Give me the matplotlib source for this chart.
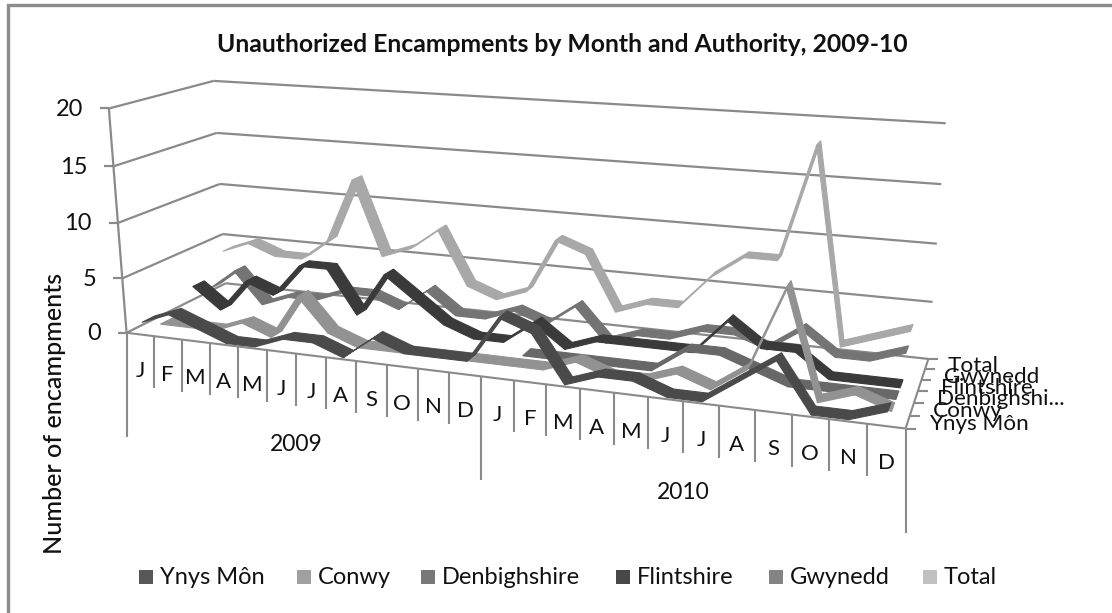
import numpy as np
import matplotlib
matplotlib.use('Agg')
import matplotlib.pyplot as plt
from matplotlib.patches import Polygon, Rectangle

plt.rcParams['font.family'] = ['Lato', 'DejaVu Sans']

nan = np.nan

months = ['J', 'F', 'M', 'A', 'M', 'J', 'J', 'A', 'S', 'O', 'N', 'D'] * 2
years = ['2009', '2010']
yticks = [0, 5, 10, 15, 20]

series_names = ['Ynys Môn', 'Conwy', 'Denbighshire', 'Flintshire', 'Gwynedd', 'Total']
depth_labels = ['Ynys Môn', 'Conwy', 'Denbighshi...', 'Flintshire', 'Gwynedd', 'Total']
series_colors = ['#585858', '#a0a0a0', '#787878', '#484848', '#848484', '#c0c0c0']
ribbon_colors = ['#4a4a4a', '#929292', '#686868', '#3a3a3a', '#747474', '#a8a8a8']

ynys = [1, 2, 1, 0, 0, 1, 1, 0, 2, 1, 1, 1, 5, 4, 0, 1, 1, 0, 0, 2, 4, 0, 0, 1]
conwy = [0, 0, 0, 1, 0, 4, 1, 0, 0, 0, 0, 0, 0, 0, 1, 0, 0, 1, 0, 2, 9, 0, 1, 0]
denbigh = [nan] * 12 + [0, 0, 0, 0, 0, 2, 2, 1, 0, 0, 0, 0]
flint = [2, 0, 3, 2, 5, 5, 1, 5, 3, 1, 0, 0, 2, 0, 1, 1, 1, 1, 4, 2, 2, 0, 0, 0]
gwynedd = [1, 3, 0, 1, 1, 2, 2, 1, 3, 1, 1, 2, 1, 3, 0, 1, 1, 2, 2, 1, 3, 1, 1, 2]
total = [4, 5, 4, 4, 6, 12, 5, 6, 8, 3, 2, 3, 8, 7, 2, 3, 3, 6, 8, 8, 18, 1, 2, 3]
all_series = [ynys, conwy, denbigh, flint, gwynedd, total]

# camera: where known corners of the 3d box land in the picture
box_pts = [(0, 0, 0), (24, 0, 0), (24, 1, 0), (0, 1, 0), (0, 0, 20), (0, 1, 20), (24, 1, 20),
           (12, 0, 0), (24, 1, 10), (0, 0, 10), (0, 1, 10)]
box_px = [(127, 333), (906, 428), (928, 358), (226, 283), (110, 108), (213, 80), (945, 124),
          (480, 377), (938, 244), (117, 223), (220, 185)]


def fit_camera(pts, px):
    rows = []
    for (a, b, c), (u, v) in zip(pts, px):
        rows.append([a, b, c, 1, 0, 0, 0, 0, -u * a, -u * b, -u * c, -u])
        rows.append([0, 0, 0, 0, a, b, c, 1, -v * a, -v * b, -v * c, -v])
    return np.linalg.svd(np.array(rows, dtype=float))[2][-1].reshape(3, 4)


cam = fit_camera(box_pts, box_px)


def project(x, d, z):
    h = cam @ np.array([x, d, z, 1.0])
    return h[0] / h[2], h[1] / h[2]


fig = plt.figure(figsize=(11.12, 6.13), dpi=100)
ax = fig.add_axes([0, 0, 1, 1])
ax.set_xlim(0, 1112)
ax.set_ylim(613, 0)
ax.axis('off')

axis_col = '#8a8a8a'


def seg(p, q, lw=1.6, col=axis_col, z=1):
    ax.plot([p[0], q[0]], [p[1], q[1]], color=col, lw=lw, zorder=z, solid_capstyle='butt')


# chart frame, open at the bottom and on the right side as in the source crop
ax.plot([8, 8, 1112], [613, 5, 5], color='#8c8c8c', lw=2.4, zorder=0, solid_joinstyle='miter')

# walls
for v in yticks:
    seg(project(0, 0, v), project(0, 1, v))
    seg(project(0, 1, v), project(24, 1, v))
    p = project(0, 0, v)
    seg((p[0] - 9, p[1]), p)
    ax.text(p[0] - 26, p[1] + 1, str(v), ha='right', va='center', fontsize=17, color='#111111')
seg(project(0, 0, 0), project(0, 0, 20))

# floor edges
seg(project(0, 0, 0), project(24, 0, 0), lw=1.5)
seg(project(24, 0, 0), project(24, 1, 0), lw=1.5)

# month separators and year separators
for i in range(25):
    p = project(i, 0, 0)
    length = 104 if i % 12 == 0 else 52
    seg(p, (p[0], p[1] + length), lw=1.5)
for i, m in enumerate(months):
    p = project(i + 0.5, 0, 0)
    ax.text(p[0], p[1] + 37, m, ha='center', va='center', fontsize=16, color='#111111')
for i, y in enumerate(years):
    p = project(6 + 12 * i, 0, 0)
    ax.text(p[0], p[1] + 91, y, ha='center', va='center', fontsize=16.5, color='#111111')

# depth axis
for k in range(7):
    p = project(24, k / 6, 0)
    seg(p, (p[0] + 10, p[1]), lw=1.5)
for k, name in enumerate(depth_labels):
    p = project(24, (k + 0.5) / 6, 0)
    ax.text(p[0] + 21, p[1] + 2, name, ha='left', va='center', fontsize=16.2, color='#111111', zorder=5)

# ribbons, painted back to front
half = 0.06
for k in range(5, -1, -1):
    vals = all_series[k]
    d = (k + 0.5) / 6
    for i in range(23):
        if np.isnan(vals[i]) or np.isnan(vals[i + 1]):
            continue
        quad = [project(i + 0.5, d - half, vals[i]), project(i + 1.5, d - half, vals[i + 1]),
                project(i + 1.5, d + half, vals[i + 1]), project(i + 0.5, d + half, vals[i])]
        ax.add_patch(Polygon(quad, closed=True, facecolor=ribbon_colors[k], edgecolor=ribbon_colors[k],
                             lw=0.8, zorder=3 + (5 - k) * 0.1))

ax.text(562, 44, 'Unauthorized Encampments by Month and Authority, 2009-10', ha='center', va='center',
        fontsize=17.8, fontweight='bold', color='#111111')
ax.text(55, 414, 'Number of encampments', rotation=90, ha='center', va='center', fontsize=18,
        fontweight='medium', color='#111111')

# legend
swatch_x = [139, 297, 421, 616, 769, 923]
for x, name, col in zip(swatch_x, series_names, series_colors):
    ax.add_patch(Rectangle((x, 570), 14, 14, facecolor=col, edgecolor='none'))
    ax.text(x + 21, 577, name, ha='left', va='center', fontsize=17, color='#111111')

fig.savefig('out.png', dpi=100)
